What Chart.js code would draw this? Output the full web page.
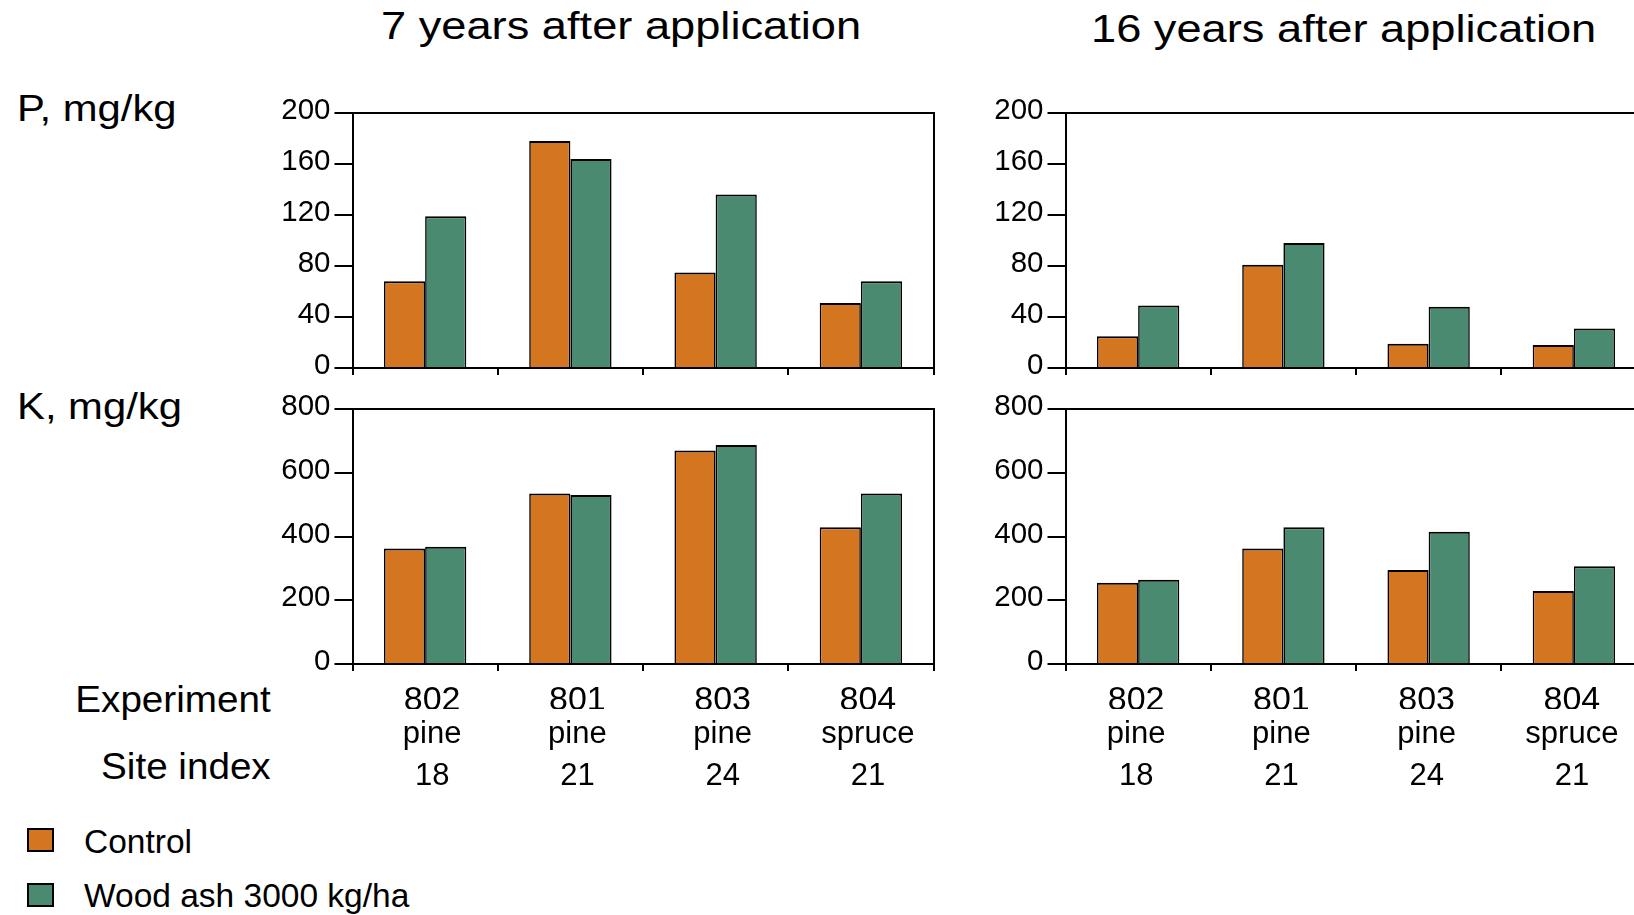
<!DOCTYPE html>
<html>
<head>
<meta charset="utf-8">
<script src="https://cdn.jsdelivr.net/npm/chart.js@4.4.1/dist/chart.umd.min.js"></script>
<style>
  html, body { margin: 0; padding: 0; background: #fff; overflow: hidden; width: 1634px; height: 915px; }
  body { position: relative; font-family: "Liberation Sans", Arial, Helvetica, sans-serif; color: #000; }
  canvas { position: absolute; }
  .txt { position: absolute; white-space: nowrap; line-height: 1; transform-origin: left top; }
  .rtxt { position: absolute; white-space: nowrap; line-height: 1; transform-origin: right top; }
  .key { position: absolute; box-sizing: border-box; border: 2px solid #000; }
</style>
</head>
<body>
<div class="txt" style="left:381px; top:7px; font-size:38px; transform:scaleX(1.19);">7 years after application</div>
<div class="txt" style="left:1091px; top:10px; font-size:38px; transform:scaleX(1.19);">16 years after application</div>
<div class="txt" style="left:17px; top:90px; font-size:37px; transform:scaleX(1.13);">P, mg/kg</div>
<div class="txt" style="left:17px; top:388px; font-size:37px; transform:scaleX(1.13);">K, mg/kg</div>
<div class="rtxt" style="right:1363px; top:681px; font-size:37.5px; transform:scaleX(1.03);">Experiment</div>
<div class="rtxt" style="right:1363px; top:748px; font-size:37.5px; transform:scaleX(1.03);">Site index</div>
<div id="legend"></div>

<canvas id="pLeft"></canvas>
<canvas id="pRight"></canvas>
<canvas id="kLeft"></canvas>
<canvas id="kRight"></canvas>

<script>
// Experiments, stand and site index along the category axis
const experiments = ['802', '801', '803', '804'];
const species = ['pine', 'pine', 'pine', 'spruce'];
const siteIndex = ['18', '21', '24', '21'];
const seriesNames = ['Control', 'Wood ash 3000 kg/ha'];

// Phosphorus, mg/kg
const pControl7 = [68, 178, 75, 51];
const pAsh7 = [119, 164, 136, 68];
const pControl16 = [25, 81, 19, 18];
const pAsh16 = [49, 98, 48, 31];

// Potassium, mg/kg
const kControl7 = [362, 535, 670, 429];
const kAsh7 = [368, 530, 687, 535];
const kControl16 = [255, 362, 295, 229];
const kAsh16 = [264, 429, 415, 307];

// Value axis ticks
const pTicks = [0, 40, 80, 120, 160, 200];
const kTicks = [0, 200, 400, 600, 800];

const FONT = '"Liberation Sans", Arial, Helvetica, sans-serif';
const COLORS = ['rgb(212,118,31)', 'rgb(73,138,113)'];
const INK = '#000';

Chart.defaults.font.family = FONT;
Chart.defaults.color = INK;

// legend built from the series names and colours
(function buildLegend() {
  const host = document.getElementById('legend');
  seriesNames.forEach((name, i) => {
    const top = 828 + i * 54.5;
    const box = document.createElement('div');
    box.className = 'key';
    box.style.cssText = `left:27px; top:${top}px; width:27px; height:24px; background:${COLORS[i]};`;
    host.appendChild(box);
    const label = document.createElement('div');
    label.className = 'txt';
    label.style.cssText = `left:84px; top:${top - 3.5}px; font-size:33.5px;`;
    label.textContent = name;
    host.appendChild(label);
  });
})();

function fixHeight(h) { return s => { s.height = h; }; }
function fixWidth(w) { return s => { s.width = w; }; }

// frame: canvas box on the page; area: plotting rectangle on the page
function panel(id, frame, area, control, ash, yTicks, labelled, labelShift) {
  const cv = document.getElementById(id);
  cv.width = frame.width;
  cv.height = frame.height;
  cv.style.left = frame.left + 'px';
  cv.style.top = frame.top + 'px';

  const yWidth = area.left - frame.left;
  const padTop = area.top - frame.top;
  const padRight = frame.left + frame.width - area.right;
  const below = frame.top + frame.height - area.bottom;
  const rowH = [45, 42, 40];
  const xHeight = labelled ? rowH[0] : below;
  const padBottom = labelled ? below - rowH[0] - rowH[1] - rowH[2] : 0;

  const line = { display: true, color: INK, width: 2, z: 1 };

  const scales = {
    x: {
      type: 'category',
      position: 'bottom',
      offset: true,
      weight: 0,
      grid: { display: true, drawOnChartArea: false, drawTicks: true, tickLength: 7, lineWidth: 2, color: INK, offset: true },
      border: line,
      ticks: {
        display: labelled, autoSkip: false, maxRotation: 0, padding: 13, labelOffset: labelShift,
        color: INK, font: { size: 34, family: FONT, lineHeight: 1 }
      },
      afterFit: fixHeight(xHeight)
    },
    xTop: {
      type: 'category',
      position: 'top',
      grid: { display: false },
      border: line,
      ticks: { display: false },
      afterFit: fixHeight(0)
    },
    y: {
      type: 'linear',
      position: 'left',
      min: yTicks[0],
      max: yTicks[yTicks.length - 1],
      grid: { display: true, drawOnChartArea: false, drawTicks: true, tickLength: 18, lineWidth: 2, color: INK },
      border: line,
      ticks: { padding: 4, labelOffset: -2, color: INK, font: { size: 29.5, family: FONT, lineHeight: 1.2 } },
      afterBuildTicks: s => { s.ticks = yTicks.map(v => ({ value: v })); },
      afterFit: fixWidth(yWidth)
    },
    yRight: {
      type: 'linear',
      position: 'right',
      grid: { display: false },
      border: line,
      ticks: { display: false },
      afterFit: fixWidth(0)
    }
  };

  if (labelled) {
    scales.xSpecies = {
      type: 'category',
      position: 'bottom',
      labels: species,
      offset: true,
      weight: 1,
      grid: { display: false },
      border: { display: false },
      ticks: { autoSkip: false, maxRotation: 0, padding: 1.5, labelOffset: labelShift, color: INK, font: { size: 31, family: FONT, lineHeight: 1 } },
      afterFit: fixHeight(rowH[1])
    };
    scales.xSite = {
      type: 'category',
      position: 'bottom',
      labels: siteIndex,
      offset: true,
      weight: 2,
      grid: { display: false },
      border: { display: false },
      ticks: { autoSkip: false, maxRotation: 0, padding: 2.3, labelOffset: labelShift, color: INK, font: { size: 31, family: FONT, lineHeight: 1 } },
      afterFit: fixHeight(rowH[2])
    };
  }

  const bar = (name, values, i) => ({
    label: name,
    data: values,
    backgroundColor: COLORS[i],
    borderColor: INK,
    borderWidth: { top: 2, left: 1.6, right: 1.6, bottom: 0 },
    borderSkipped: 'start',
    categoryPercentage: 0.567,
    barPercentage: 1.0,
    xAxisID: 'x',
    yAxisID: 'y'
  });

  return new Chart(cv, {
    type: 'bar',
    data: {
      labels: experiments,
      datasets: [bar(seriesNames[0], control, 0), bar(seriesNames[1], ash, 1)]
    },
    options: {
      responsive: false,
      devicePixelRatio: 1,
      animation: false,
      events: [],
      layout: { padding: { top: padTop, left: 0, right: padRight, bottom: padBottom } },
      plugins: { legend: { display: false }, tooltip: { enabled: false }, title: { display: false } },
      scales
    }
  });
}

const leftFrameP = { left: 250, top: 90, width: 700, height: 300 };
const rightFrameP = { left: 960, top: 90, width: 720, height: 300 };
const leftFrameK = { left: 250, top: 385, width: 700, height: 415 };
const rightFrameK = { left: 960, top: 385, width: 720, height: 415 };

panel('pLeft', leftFrameP, { left: 352.5, top: 113, right: 933.5, bottom: 368 }, pControl7, pAsh7, pTicks, false, 0);
panel('pRight', rightFrameP, { left: 1065.5, top: 113, right: 1646.5, bottom: 368 }, pControl16, pAsh16, pTicks, false, 0);
panel('kLeft', leftFrameK, { left: 352.5, top: 409, right: 933.5, bottom: 664 }, kControl7, kAsh7, kTicks, true, 7);
panel('kRight', rightFrameK, { left: 1065.5, top: 409, right: 1646.5, bottom: 664 }, kControl16, kAsh16, kTicks, true, -2);
</script>
</body>
</html>
